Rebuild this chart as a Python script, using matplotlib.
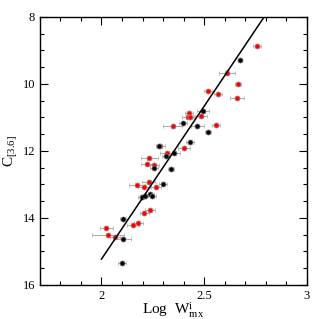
import numpy as np
import matplotlib
matplotlib.use("Agg")
import matplotlib.pyplot as plt
from matplotlib.ticker import MultipleLocator

plt.rcParams['font.family'] = ['Liberation Serif', 'DejaVu Serif']
plt.rcParams['mathtext.fontset'] = 'custom'
plt.rcParams['mathtext.rm'] = 'Liberation Serif'
plt.rcParams['mathtext.it'] = 'Liberation Serif'

# red sample: log W, C[3.6], error in log W
red_x = [2.757, 2.612, 2.663, 2.518, 2.568, 2.660, 2.486, 2.427, 2.419, 2.432,
         2.556, 2.346, 2.287, 2.403, 2.317, 2.233, 2.221, 2.258, 2.229, 2.174,
         2.206, 2.266, 2.235, 2.209, 2.180, 2.153, 2.024, 2.032, 2.064]
red_y = [8.86, 9.66, 10.00, 10.21, 10.31, 10.41, 10.95, 10.88, 10.98, 10.98,
         11.22, 11.26, 11.86, 11.90, 12.07, 12.20, 12.39, 12.43, 12.92, 13.02,
         13.09, 13.09, 13.77, 13.85, 14.15, 14.22, 14.30, 14.52, 14.57]
red_xerr = [0.02, 0.04, 0.015, 0.02, 0.02, 0.035, 0.03, 0.02, 0.025, 0.02,
            0.02, 0.045, 0.02, 0.03, 0.03, 0.04, 0.03, 0.02, 0.03, 0.04,
            0.03, 0.025, 0.025, 0.02, 0.02, 0.03, 0.03, 0.08, 0.025]

# black sample
blk_x = [2.673, 2.494, 2.397, 2.467, 2.518, 2.430, 2.282, 2.351, 2.314, 2.255,
         2.338, 2.298, 2.238, 2.245, 2.198, 2.214, 2.106, 2.103, 2.098]
blk_y = [9.29, 10.80, 11.18, 11.26, 11.45, 11.73, 11.85, 12.05, 12.14, 12.50,
         12.54, 13.00, 13.29, 13.35, 13.37, 13.36, 14.02, 14.63, 15.36]
blk_xerr = [0.01, 0.03, 0.02, 0.03, 0.015, 0.02, 0.015, 0.03, 0.02, 0.02,
            0.015, 0.02, 0.02, 0.02, 0.02, 0.02, 0.015, 0.04, 0.02]

yerr = 0.06

# fitted relation C = a + b*(logW - 2)
fit_a = 15.23
fit_b = -9.13
fit_xmin, fit_xmax = 2.0, 2.8

fig = plt.figure(figsize=(3.19, 3.19), dpi=100)
ax = fig.add_axes([0.125, 0.107, 0.837, 0.84])

ax.errorbar(red_x, red_y, xerr=red_xerr, yerr=yerr, fmt='o', ms=3.7,
            mfc='red', mec='#a0a0a0', mew=0.5, ecolor='#aaaaaa',
            elinewidth=0.7, capsize=1.5, capthick=0.7, zorder=3)
ax.errorbar(blk_x, blk_y, xerr=blk_xerr, yerr=yerr, fmt='o', ms=3.7,
            mfc='black', mec='#909090', mew=0.5, ecolor='#aaaaaa',
            elinewidth=0.7, capsize=1.5, capthick=0.7, zorder=3)

xx = np.linspace(fit_xmin, fit_xmax, 50)
ax.plot(xx, fit_a + fit_b * (xx - 2), color='black', lw=1.1, zorder=4)

ax.set_xlim(1.7, 3.0)
ax.set_ylim(16, 8)
ax.xaxis.set_major_locator(MultipleLocator(0.5))
ax.xaxis.set_minor_locator(MultipleLocator(0.1))
ax.yaxis.set_major_locator(MultipleLocator(2))
ax.yaxis.set_minor_locator(MultipleLocator(0.5))
ax.set_xticks([2, 2.5, 3])
ax.set_xticklabels(['2', '2.5', '3'])
ax.tick_params(which='both', direction='in', top=True, right=True,
               labelsize=9, width=0.8)
ax.tick_params(which='major', length=6)
ax.tick_params(which='minor', length=3)
for s in ax.spines.values():
    s.set_linewidth(1.0)

ax.set_xlabel(r'Log  W$^{\rm i}_{\rm mx}$', fontsize=11, labelpad=-1)
ax.set_ylabel(r'C$_{[3.6]}$', fontsize=11, labelpad=2)

fig.savefig('out.png', dpi=100)
